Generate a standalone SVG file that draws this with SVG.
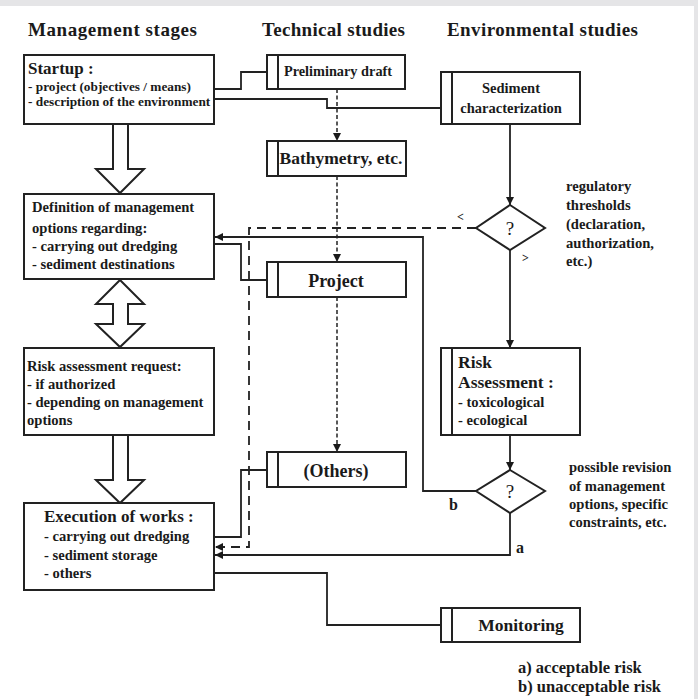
<svg xmlns="http://www.w3.org/2000/svg" width="698" height="699" viewBox="0 0 698 699">
<style>
text{font-family:"Liberation Serif","Times New Roman",serif;font-weight:bold;fill:#1a1a1a}
.box{fill:#fff;stroke:#222;stroke-width:2}
.bar{stroke:#222;stroke-width:2}
.ln{fill:none;stroke:#222;stroke-width:1.8}
.dash{fill:none;stroke:#222;stroke-width:1.8;stroke-dasharray:9 6}
.dot{fill:none;stroke:#222;stroke-width:1.5;stroke-dasharray:4 2.5}
.blk{fill:#fff;stroke:#222;stroke-width:2;stroke-linejoin:miter}
.h{font-size:19px}
.t17{font-size:17px}
.t15{font-size:14.6px}
.t13{font-size:13.3px}
.mid{text-anchor:middle}
</style>
<defs>
<marker id="ah" viewBox="0 0 10 10" refX="10" refY="5" markerWidth="9" markerHeight="8" markerUnits="userSpaceOnUse" orient="auto"><path d="M0,0 L10,5 L0,10 z" fill="#1a1a1a"/></marker>
</defs>
<rect x="0" y="0" width="698" height="699" fill="#e5e5e7"/>
<rect x="0" y="6" width="694" height="693" fill="#fff"/>

<g id="headings">
<text class="h" x="28" y="36" textLength="169">Management stages</text>
<text class="h" x="262" y="36" textLength="143">Technical studies</text>
<text class="h" x="447" y="36" textLength="191">Environmental studies</text>
</g>

<g id="connectors">
<path class="blk" d="M113,124 V169 H96 L120,193 L144,169 H128 V124"/>
<path class="blk" d="M120,280 L144,304 H128 V324 H144 L120,347 L96,324 H113 V304 H96 Z"/>
<path class="blk" d="M113,435 V480 H96 L120,503 L144,480 H128 V435"/>
<path class="ln" d="M214,89 H241 V72 H267"/>
<path class="ln" d="M214,99 H327 V108 H441"/>
<path class="dot" d="M337,89 V141" marker-end="url(#ah)"/>
<path class="dot" d="M337,176 V262" marker-end="url(#ah)"/>
<path class="dot" d="M337,297 V452" marker-end="url(#ah)"/>
<path class="ln" d="M214,244 H241 V280 H267"/>
<path class="ln" d="M510,124 V205" marker-end="url(#ah)"/>
<path class="ln" d="M510,250 V348" marker-end="url(#ah)"/>
<path class="ln" d="M510,435 V470" marker-end="url(#ah)"/>
<path class="dash" d="M476,228 H249 V547 H215" marker-end="url(#ah)"/>
<path class="ln" d="M476,491 H423 V237 H215" marker-end="url(#ah)"/>
<path class="ln" d="M510,513 V555 H215" marker-end="url(#ah)"/>
<path class="ln" d="M267,470 H241 V537 H214"/>
<path class="ln" d="M214,573 H327 V625 H441"/>
<text x="457" y="221" style="font-size:12px">&lt;</text>
<text x="522" y="262" style="font-size:12px">&gt;</text>
<text x="449" y="510" style="font-size:16px">b</text>
<text x="516" y="553" style="font-size:16px">a</text>
</g>

<g id="startup">
<rect class="box" x="24" y="55" width="190" height="69"/>
<text class="t17" x="28" y="74">Startup :</text>
<text class="t13" x="28" y="91">- project (objectives / means)</text>
<text class="t13" x="28" y="106">- description of the environment</text>
</g>

<g id="definition">
<rect class="box" x="24" y="194" width="190" height="85"/>
<text class="t15" x="32" y="212">Definition  of management</text>
<text class="t15" x="32" y="233">options regarding:</text>
<text class="t15" x="32" y="251">- carrying  out dredging</text>
<text class="t15" x="32" y="269">- sediment destinations</text>
</g>

<g id="risk-request">
<rect class="box" x="24" y="348" width="190" height="87"/>
<text class="t15" x="27" y="371">Risk assessment request:</text>
<text class="t15" x="27" y="389">- if authorized</text>
<text class="t15" x="27" y="407">- depending  on management</text>
<text class="t15" x="27" y="425">options</text>
</g>

<g id="execution">
<rect class="box" x="24" y="503" width="190" height="87"/>
<text class="t17" x="44" y="522">Execution of works :</text>
<text class="t15" x="44" y="541">- carrying  out dredging</text>
<text class="t15" x="44" y="560">- sediment  storage</text>
<text class="t15" x="44" y="578">- others</text>
</g>

<g id="preliminary-draft">
<rect class="box" x="267" y="55" width="138" height="34"/>
<line class="bar" x1="278" y1="55" x2="278" y2="89"/>
<text class="mid" x="338" y="76" style="font-size:14.3px">Preliminary  draft</text>
</g>

<g id="bathymetry">
<rect class="box" x="267" y="141" width="139" height="35"/>
<line class="bar" x1="278" y1="141" x2="278" y2="176"/>
<text class="mid" x="341" y="164" style="font-size:17.5px">Bathymetry, etc.</text>
</g>

<g id="project">
<rect class="box" x="267" y="262" width="139" height="35"/>
<line class="bar" x1="278" y1="262" x2="278" y2="297"/>
<text class="mid" x="336" y="287" style="font-size:18px">Project</text>
</g>

<g id="others">
<rect class="box" x="267" y="452" width="139" height="35"/>
<line class="bar" x1="278" y1="452" x2="278" y2="487"/>
<text class="mid" x="336" y="477" style="font-size:18px">(Others)</text>
</g>

<g id="sediment">
<rect class="box" x="441" y="72" width="139" height="52"/>
<line class="bar" x1="452" y1="72" x2="452" y2="124"/>
<text class="mid" x="511" y="93" style="font-size:14.5px">Sediment</text>
<text class="mid" x="511" y="113" style="font-size:14.5px">characterization</text>
</g>

<g id="decision-thresholds">
<polygon class="box" points="510,205 545,228 510,250 476,228"/>
<text class="mid" x="510" y="235" style="font-size:19px;font-weight:normal">?</text>
<text class="t15" x="566" y="191">regulatory</text>
<text class="t15" x="566" y="210">thresholds</text>
<text class="t15" x="566" y="229">(declaration,</text>
<text class="t15" x="566" y="248">authorization,</text>
<text class="t15" x="566" y="266">etc.)</text>
</g>

<g id="risk-assessment">
<rect class="box" x="441" y="348" width="139" height="87"/>
<line class="bar" x1="452" y1="348" x2="452" y2="435"/>
<text x="458" y="368" style="font-size:17.5px">Risk</text>
<text x="458" y="388" style="font-size:17.5px">Assessment :</text>
<text class="t15" x="458" y="407">- toxicological</text>
<text class="t15" x="458" y="425">- ecological</text>
</g>

<g id="decision-risk">
<polygon class="box" points="510,470 545,491 510,513 476,491"/>
<text class="mid" x="510" y="498" style="font-size:19px;font-weight:normal">?</text>
<text class="t15" x="569" y="472">possible revision</text>
<text class="t15" x="569" y="491">of management</text>
<text class="t15" x="569" y="509">options, specific</text>
<text class="t15" x="569" y="527">constraints, etc.</text>
</g>

<g id="monitoring">
<rect class="box" x="441" y="608" width="139" height="34"/>
<line class="bar" x1="452" y1="608" x2="452" y2="642"/>
<text class="mid" x="521" y="631" style="font-size:17.5px">Monitoring</text>
</g>

<g id="legend">
<text x="518" y="673" style="font-size:16.5px">a) acceptable risk</text>
<text x="518" y="692" style="font-size:16.5px">b) unacceptable risk</text>
</g>
</svg>
